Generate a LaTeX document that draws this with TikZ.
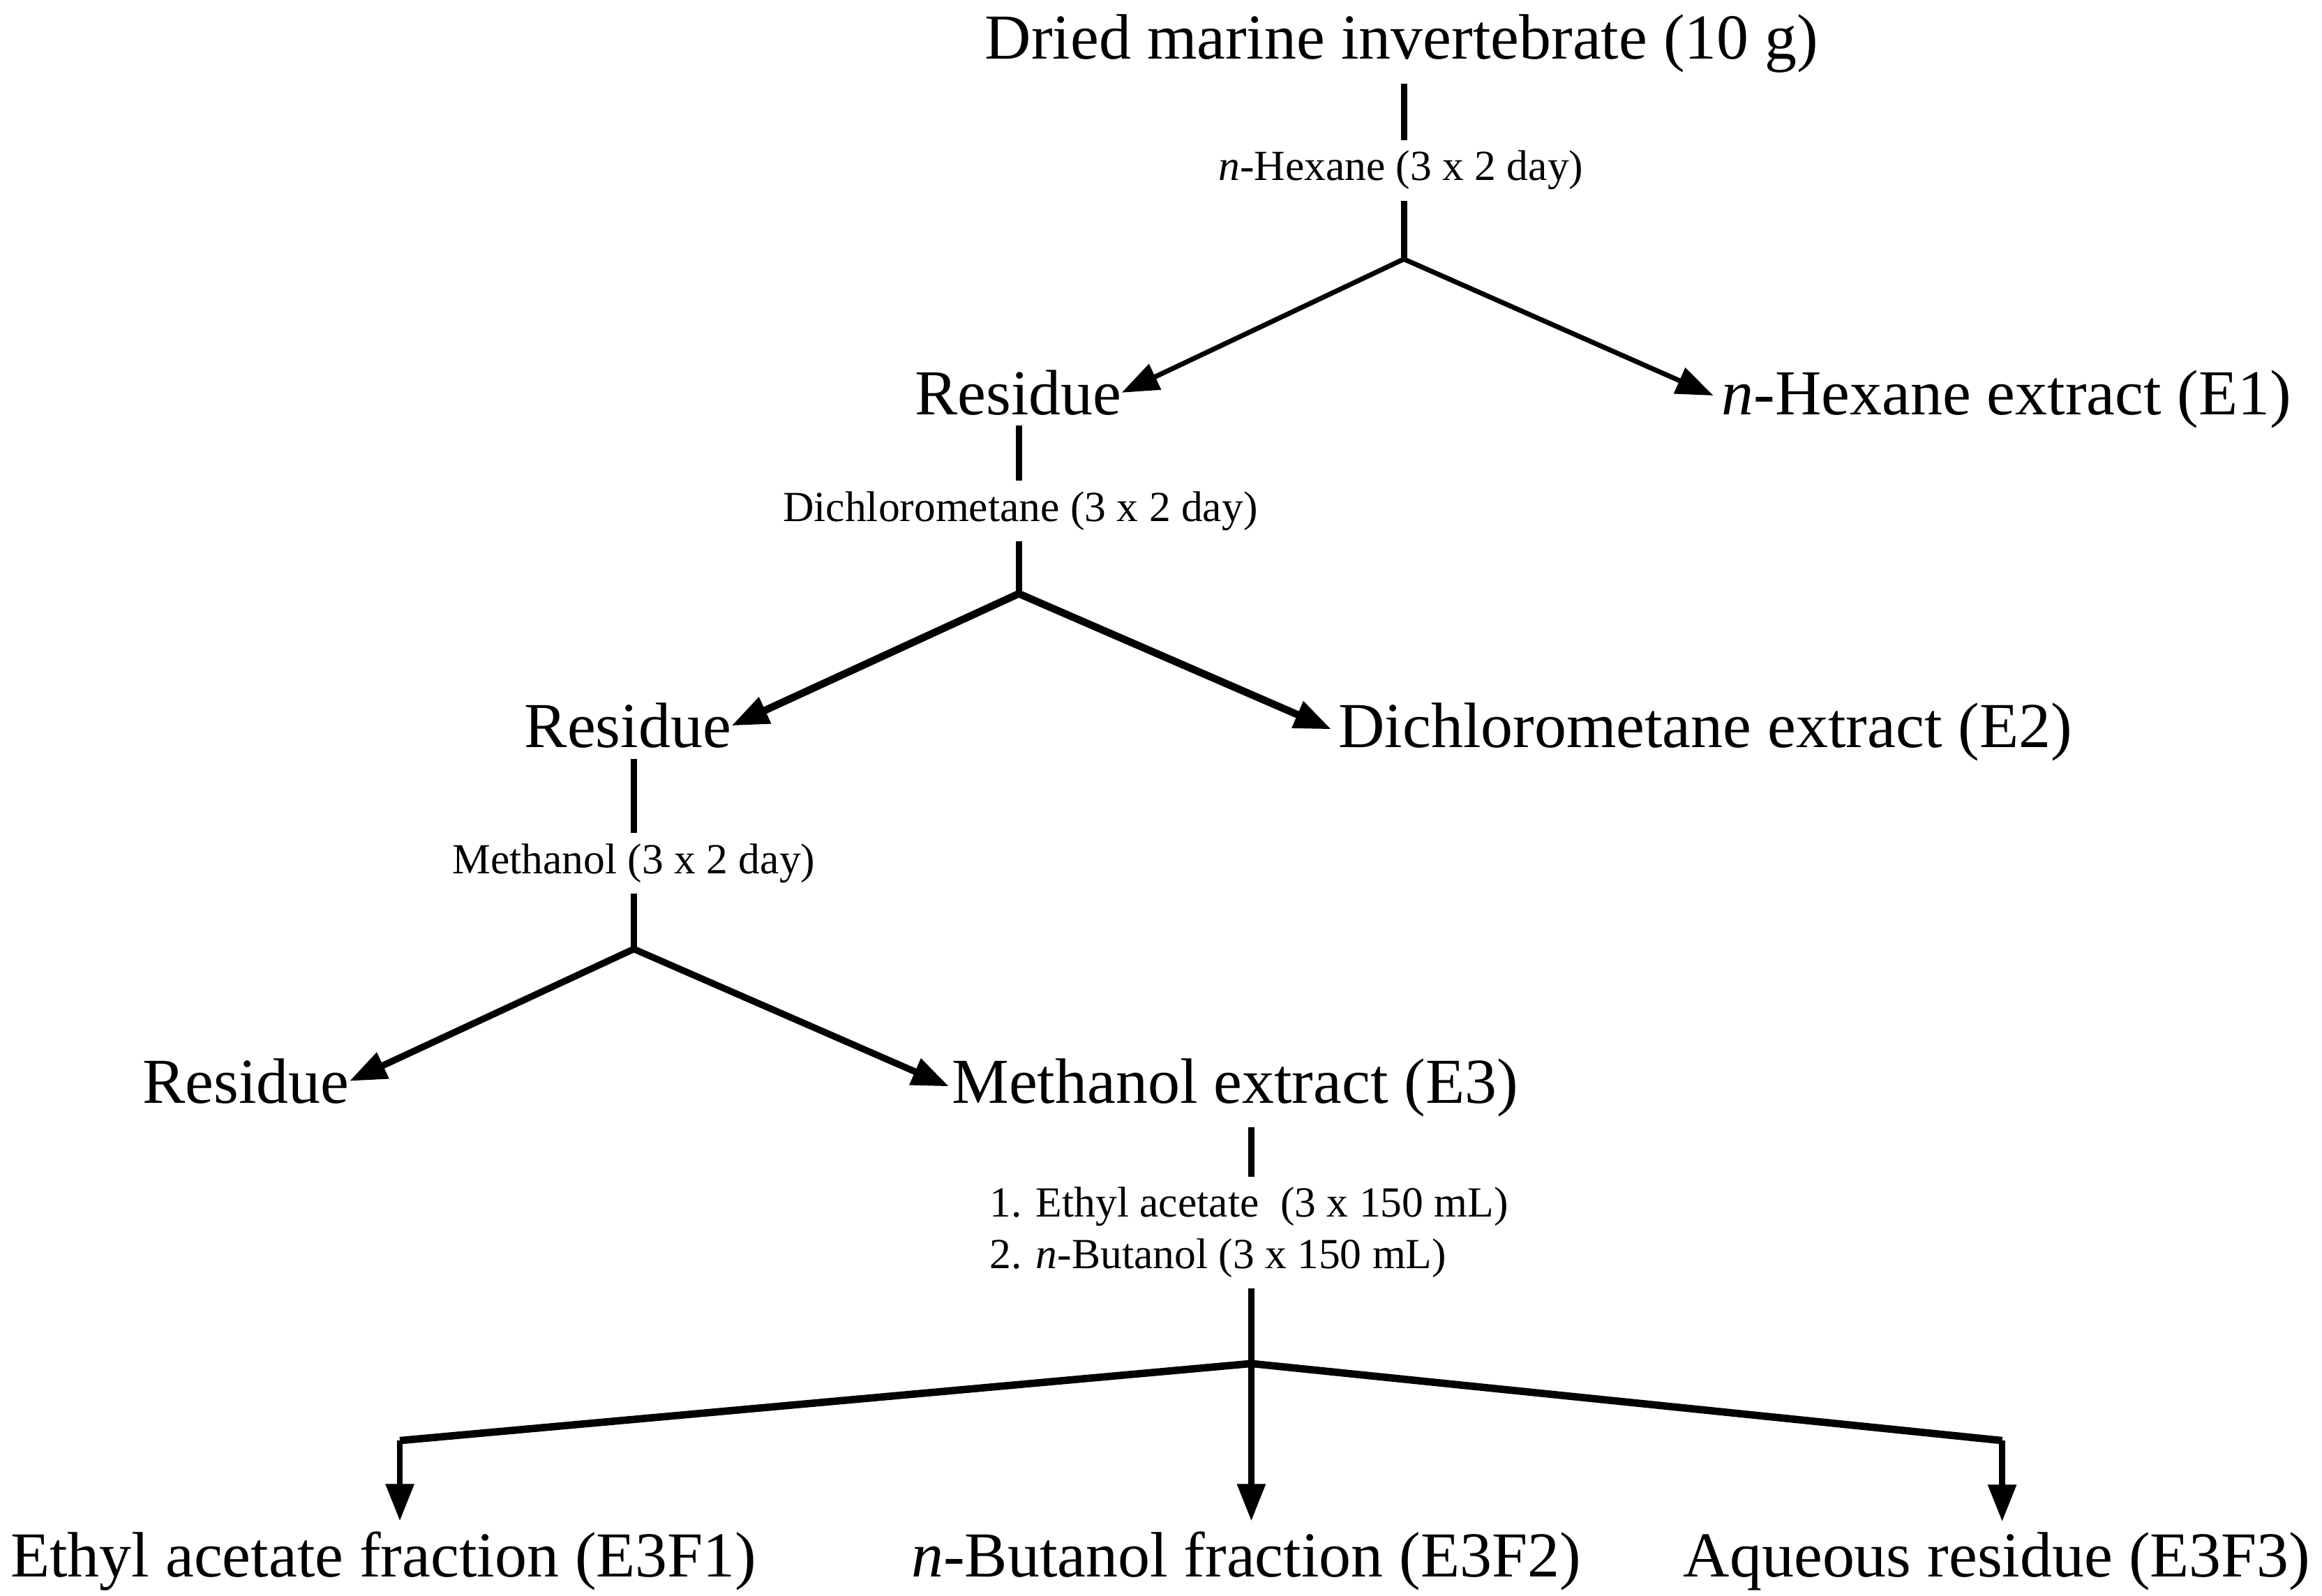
\documentclass[tikz,border=0pt]{standalone}
\usepackage{fontspec}
\setmainfont{Liberation Serif}
\usetikzlibrary{arrows.meta}
\begin{document}
\begin{tikzpicture}[x=1pt,y=-1pt,
  txt/.style={inner xsep=0pt, inner ysep=7pt, anchor=base, font=\fontsize{43.3}{50}\selectfont},
  lab/.style={inner xsep=0pt, inner ysep=7pt, anchor=base, font=\fontsize{29}{35}\selectfont},
  stem/.style={line width=4.2pt},
  tip/.style={-{Triangle[length=25pt,width=18.5pt]}},
  twotip/.style={{Triangle[length=25pt,width=18.5pt]}-{Triangle[length=25pt,width=18.5pt]}, line join=miter},
]
\useasboundingbox (0,0) rectangle (1568,1078);
% branch points
\coordinate (b1) at (948,175);
\coordinate (b2) at (688,401);
\coordinate (b3) at (428,641);
\coordinate (b4) at (845,921);
\coordinate (l4) at (270,973);
\coordinate (r4) at (1352,973);
% texts
\node[txt] (title) at (946.5,40) {Dried marine invertebrate (10 g)};
\node[lab] (hexlab) at (946,122) {\textit{n}-Hexane (3 x 2 day)};
\node[txt] (res1) at (687.5,280) {Residue};
\node[txt] (e1) at (1355,280) {\textit{n}-Hexane extract (E1)};
\node[lab] (dcmlab) at (689,352) {Dichlorometane (3 x 2 day)};
\node[txt] (res2) at (424,505) {Residue};
\node[txt] (e2) at (1151.5,505) {Dichlorometane extract (E2)};
\node[lab] (melab) at (428,590) {Methanol (3 x 2 day)};
\node[txt] (res3) at (166,745) {Residue};
\node[txt] (e3) at (834,745) {Methanol extract (E3)};
\node[lab, anchor=base west] (ext1) at (668,822) {1. Ethyl acetate\ \ (3 x 150 mL)};
\node[lab, anchor=base west] (ext2) at (668,857) {2. \textit{n}-Butanol (3 x 150 mL)};
\node[txt] (f1) at (259,1065) {Ethyl acetate fraction (E3F1)};
\node[txt] (f2) at (841.5,1065) {\textit{n}-Butanol fraction (E3F2)};
\node[txt] (f3) at (1348.5,1065) {Aqueous residue (E3F3)};
% stems
\draw[stem] (title.south -| b1) -- (hexlab.north -| b1);
\draw[stem] (hexlab.south -| b1) -- (b1);
\draw[stem] (res1.south -| b2) -- (dcmlab.north -| b2);
\draw[stem] (dcmlab.south -| b2) -- (b2);
\draw[stem] (res2.south -| b3) -- (melab.north -| b3);
\draw[stem] (melab.south -| b3) -- (b3);
\draw[stem] (e3.south -| b4) -- (ext1.north -| b4);
% splits
\draw[twotip, line width=3.3pt, shorten >=6pt] (res1.east) -- (b1) -- (e1.west);
\draw[twotip, line width=5pt, shorten >=5pt] (res2.east) -- (b2) -- (e2.west);
\draw[twotip, line width=4.5pt, shorten >=2pt] (res3.east) -- (b3) -- (e3.west);
\draw[line width=5pt, line join=miter] (l4) -- (b4) -- (r4);
\draw[tip, line width=4pt] (ext2.south -| b4) -- (b4 |- f2.north);
\draw[tip, line width=4pt] (l4) -- (l4 |- f1.north);
\draw[tip, line width=4pt] (r4) -- (r4 |- f3.north);
\end{tikzpicture}
\end{document}
